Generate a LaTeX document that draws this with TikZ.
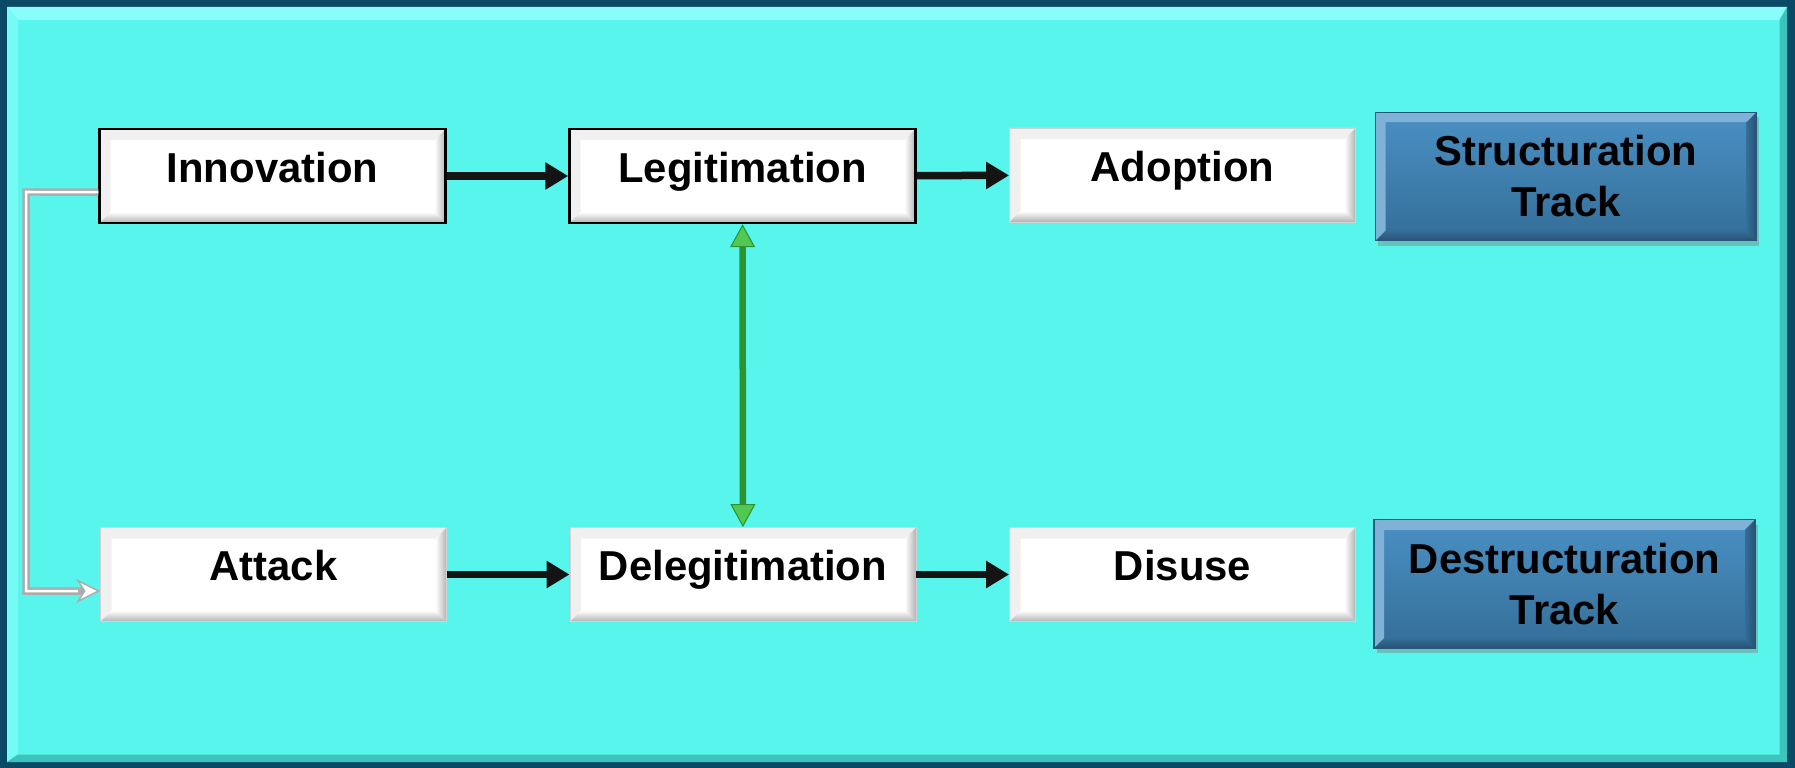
\documentclass[tikz,border=0pt]{standalone}
\usepackage{fontspec}
\setmainfont{Liberation Sans}
\usetikzlibrary{arrows.meta,shadows}

\definecolor{framedark}{HTML}{0B4A66}
\definecolor{cyanbg}{HTML}{58F5EC}
\definecolor{cyanlight}{HTML}{88FDFA}
\definecolor{cyandark}{HTML}{3CC4BC}
\definecolor{tracktop}{HTML}{4A90C4}
\definecolor{trackbottom}{HTML}{346E98}
\definecolor{trackedge}{HTML}{24557A}
\definecolor{linegreen}{HTML}{2B9431}
\definecolor{headgreen}{HTML}{52C852}

% bevel drawn inside a node: #1 depth, #2 shadow colour, #3 light colour, #4 face colour
\newcommand\nodebevel[4]{%
  \coordinate (pb1) at (path picture bounding box.south west);
  \coordinate (pb2) at (path picture bounding box.north east);
  \fill[#3] (pb1) -- (pb1 |- pb2) -- ([shift={(#1,-#1)}]pb1 |- pb2) -- ([shift={(#1,#1)}]pb1) -- cycle;
  \fill[#3] (pb2) -- (pb1 |- pb2) -- ([shift={(#1,-#1)}]pb1 |- pb2) -- ([shift={(-#1,-#1)}]pb2) -- cycle;
  \shade[left color=#4, right color=#2] (pb2) -- (pb1 -| pb2) -- ([shift={(-#1,#1)}]pb1 -| pb2) -- ([shift={(-#1,-#1)}]pb2) -- cycle;
  \shade[top color=#4, bottom color=#2] (pb1) -- (pb1 -| pb2) -- ([shift={(-#1,#1)}]pb1 -| pb2) -- ([shift={(#1,#1)}]pb1) -- cycle;
}

\begin{document}
\begin{tikzpicture}[
  stage/.style={fill=white, draw=gray!35, line width=0.5pt, minimum width=6.92cm, minimum height=1.88cm,
    inner sep=0pt, text height=0.6cm, text depth=0.36cm, font=\fontsize{23.8}{29}\selectfont\bfseries,
    path picture={\nodebevel{0.22}{gray!60}{gray!12}{white}}},
  outlined/.style={draw=black, line width=1.4pt},
  track/.style={draw=trackedge, line width=0.6pt, top color=tracktop, bottom color=trackbottom,
    minimum width=7.62cm, minimum height=2.57cm, align=center, inner sep=0pt,
    font=\fontsize{23.8}{29}\selectfont\bfseries,
    drop shadow={opacity=0.45, shadow xshift=0.05cm, shadow yshift=-0.1cm},
    path picture={\nodebevel{0.2}{trackbottom!75!black}{tracktop!70!white}{trackbottom}}},
  flow/.style={draw=black!92, line width=0.15cm, -{Triangle[length=0.46cm, width=0.52cm]}},
  link/.style={draw=linegreen, line width=0.13cm,
    {Triangle[length=0.46cm, width=0.5cm, fill=headgreen, line width=0.6pt]}-{Triangle[length=0.46cm, width=0.5cm, fill=headgreen, line width=0.6pt]}},
  feed/.style={draw=gray!65, line width=0.15cm,
    -{Stealth[length=0.48cm, width=0.48cm, fill=white, line width=0.8pt]},
    postaction={draw=white, line width=0.05cm, -, shorten >=0.44cm}}
]
% frame and panel
\useasboundingbox (0,0) rectangle (35.9,-15.36);
\fill[framedark] (0,0) rectangle (35.9,-15.36);
\fill[cyanbg] (0.14,-0.14) rectangle (35.74,-15.24);
\fill[cyanlight] (0.14,-0.14) -- (35.74,-0.14) -- (35.59,-0.40) -- (0.36,-0.40) -- cycle;
\fill[cyanlight!60!cyanbg] (0.14,-0.14) -- (0.36,-0.40) -- (0.36,-15.09) -- (0.14,-15.24) -- cycle;
\fill[cyandark] (35.74,-0.14) -- (35.74,-15.24) -- (35.59,-15.09) -- (35.59,-0.40) -- cycle;
\fill[cyandark] (0.14,-15.24) -- (35.74,-15.24) -- (35.59,-15.09) -- (0.36,-15.09) -- cycle;

% top row
\node[stage, outlined] (innov) at (5.45,-3.52) {Innovation};
\node[stage, outlined] (legit) at (14.85,-3.52) {Legitimation};
\node[stage] (adopt) at (23.65,-3.50) {Adoption};
\node[track] (struct) at (31.32,-3.53) {Structuration\\Track};

% bottom row
\node[stage] (attack) at (5.47,-11.49) {Attack};
\node[stage] (delegit) at (14.86,-11.49) {Delegitimation};
\node[stage] (disuse) at (23.65,-11.49) {Disuse};
\node[track] (destruct) at (31.29,-11.68) {Destructuration\\Track};

\coordinate (bend) at (0.52,-3.84);

\draw[flow] (innov) -- (legit);
\draw[flow] (legit) -- (adopt);
\draw[flow] (attack) -- (delegit);
\draw[flow] (delegit) -- (disuse);
\draw[link] (legit) -- (delegit);
\draw[feed] ([yshift=-0.32cm]innov.west) -- (bend) |- ([yshift=-0.33cm]attack.west);
\end{tikzpicture}
\end{document}
